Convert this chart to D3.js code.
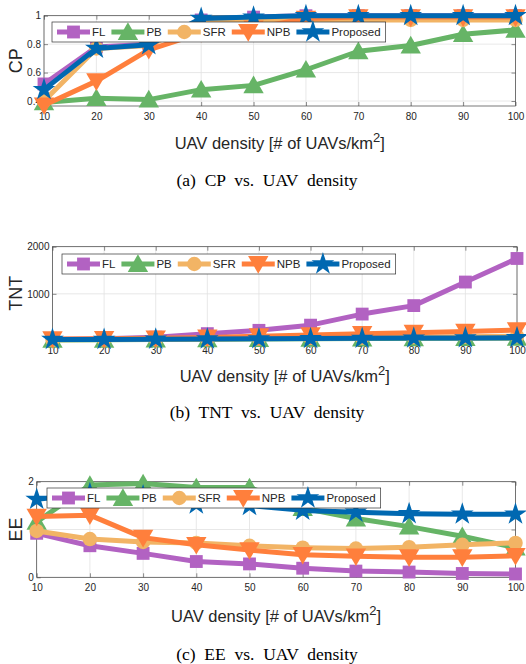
<!DOCTYPE html>
<html>
<head>
<meta charset="utf-8">
<script src="https://cdn.jsdelivr.net/npm/d3@7"></script>
<style>
  body { margin: 0; background: #fff; }
  svg { display: block; }
  text { font-family: "Liberation Sans", Arial, sans-serif; fill: #262626; }
  .caption { font-family: "Liberation Serif", "Times New Roman", serif; fill: #000; white-space: pre; }
</style>
</head>
<body>
<svg id="fig" width="526" height="664"></svg>
<script>
// x values shared by the three panels
const uavDensity = [10, 20, 30, 40, 50, 60, 70, 80, 90, 100];
const methodNames = ["FL", "PB", "SFR", "NPB", "Proposed"];
const methodColors = ["#b262c2", "#66b466", "#f2b465", "#ff7f3c", "#0068b1"];

// (a) coverage probability
const cpFL = [0.52, 0.78, 0.80, 0.97, 0.99, 1.0, 1.0, 1.0, 1.0, 1.0];
const cpPB = [0.39, 0.42, 0.41, 0.48, 0.51, 0.62, 0.75, 0.79, 0.87, 0.90];
const cpSFR = [0.40, 0.77, 0.79, 0.96, 0.965, 0.97, 0.97, 0.97, 0.97, 0.97];
const cpNPB = [0.37, 0.54, 0.76, 0.88, 0.91, 0.98, 0.99, 0.99, 0.99, 0.99];
const cpProposed = [0.48, 0.77, 0.795, 0.98, 0.99, 1.0, 1.0, 1.0, 1.0, 1.0];

// (b) TNT
const tntFL = [30, 45, 80, 155, 225, 335, 570, 750, 1250, 1750];
const tntPB = [22, 25, 30, 35, 40, 45, 50, 55, 60, 65];
const tntSFR = [25, 30, 35, 40, 50, 60, 70, 80, 90, 100];
const tntNPB = [40, 45, 55, 75, 100, 125, 150, 175, 200, 230];
const tntProposed = [30, 30, 35, 40, 45, 50, 55, 60, 65, 70];

// (c) energy efficiency
const eeFL = [0.92, 0.66, 0.50, 0.33, 0.28, 0.19, 0.13, 0.11, 0.08, 0.07];
const eePB = [1.16, 1.93, 1.96, 1.88, 1.88, 1.45, 1.23, 1.06, 0.86, 0.62];
const eeSFR = [0.97, 0.80, 0.74, 0.72, 0.66, 0.62, 0.60, 0.63, 0.68, 0.72];
const eeNPB = [1.27, 1.30, 0.83, 0.68, 0.57, 0.47, 0.44, 0.42, 0.42, 0.45];
const eeProposed = [1.63, 1.75, 1.70, 1.53, 1.50, 1.40, 1.36, 1.33, 1.32, 1.32];

const cpTicks = [0.4, 0.6, 0.8, 1];
const tntTicks = [1000, 2000];
const eeTicks = [0, 1, 2];
const eeTickLabels = ["0", "", "2"];

const svg = d3.select("#fig");

// marker shapes, roughly the matlab ones
const markerPath = [
  d3.symbol(d3.symbolSquare, 165)(),
  d3.symbol(d3.symbolTriangle, 180)(),
  d3.symbol(d3.symbolCircle, 165)(),
  d3.symbol(d3.symbolTriangle, 180)(),
  d3.symbol(d3.symbolStar, 160)()
];
const markerRot = [0, 0, 0, 180, 0];
const markerDy = [0, 2, 0, -2, 0];

function drawMarker(sel, i, cx, cy) {
  sel.append("path")
    .attr("d", markerPath[i])
    .attr("fill", methodColors[i])
    .attr("transform", `translate(${cx},${cy + markerDy[i]}) rotate(${markerRot[i]})`);
}

function drawPanel(p) {
  const g = svg.append("g");
  const x = d3.scaleLinear().domain([10, 100]).range([p.left, p.right]);
  const y = d3.scaleLinear().domain(p.yDomain).range([p.bottom, p.top]);

  // grid
  g.append("g").selectAll("line").data(uavDensity).join("line")
    .attr("x1", d => x(d)).attr("x2", d => x(d))
    .attr("y1", p.top).attr("y2", p.bottom)
    .attr("stroke", "#e2e2e2").attr("stroke-width", 0.8);
  g.append("g").selectAll("line").data(p.yTicks).join("line")
    .attr("x1", p.left).attr("x2", p.right)
    .attr("y1", d => y(d)).attr("y2", d => y(d))
    .attr("stroke", "#e2e2e2").attr("stroke-width", 0.8);

  // axes, ticks pointing inward
  const ax = (axis) => axis.tickSizeOuter(0).tickSizeInner(-4);
  g.append("g").attr("transform", `translate(0,${p.bottom})`)
    .call(ax(d3.axisBottom(x)).tickValues(uavDensity).tickPadding(7));
  g.append("g").attr("transform", `translate(${p.left},0)`)
    .call(ax(d3.axisLeft(y)).tickValues(p.yTicks).tickPadding(3)
      .tickFormat((d, i) => p.yLabels ? p.yLabels[i] : d3.format("~g")(d)));
  g.append("g").attr("transform", `translate(0,${p.top})`)
    .call(ax(d3.axisTop(x)).tickValues(uavDensity).tickFormat(""));
  g.append("g").attr("transform", `translate(${p.right},0)`)
    .call(ax(d3.axisRight(y)).tickValues(p.yTicks).tickFormat(""));
  g.selectAll(".domain").remove();
  g.selectAll(".tick line").attr("stroke", "#404040").attr("stroke-width", 0.6);
  g.selectAll(".tick text").attr("font-size", 10).attr("fill", "#262626")
    .attr("font-family", "Liberation Sans, Arial, sans-serif");

  g.append("rect")
    .attr("x", p.left).attr("y", p.top)
    .attr("width", p.right - p.left).attr("height", p.bottom - p.top)
    .attr("fill", "none").attr("stroke", "#404040").attr("stroke-width", 0.7);

  // series
  const line = d3.line().x((d, i) => x(uavDensity[i])).y(d => y(d));
  p.series.forEach((vals, s) => {
    const sg = g.append("g");
    sg.append("path").attr("d", line(vals))
      .attr("fill", "none").attr("stroke", methodColors[s])
      .attr("stroke-width", 5).attr("stroke-linejoin", "round");
    vals.forEach((v, i) => drawMarker(sg, s, x(uavDensity[i]), y(v)));
  });

  // legend
  const lg = g.append("g").attr("transform", `translate(${p.legendX},${p.legendY})`);
  const box = lg.append("rect").attr("height", 20)
    .attr("fill", "#fff").attr("stroke", "#333").attr("stroke-width", 0.7);
  let cur = 0;
  methodNames.forEach((name, s) => {
    const x0 = cur + 5, x1 = x0 + 33;
    lg.append("line").attr("x1", x0).attr("x2", x1).attr("y1", 10).attr("y2", 10)
      .attr("stroke", methodColors[s]).attr("stroke-width", 5);
    drawMarker(lg, s, (x0 + x1) / 2, 10);
    const t = lg.append("text").attr("x", x1 + 2).attr("y", 10).attr("dy", "0.36em")
      .attr("font-size", 11.5).text(name);
    cur = x1 + 2 + t.node().getComputedTextLength() + 1;
  });
  box.attr("width", cur + 4);

  // labels
  g.append("text")
    .attr("transform", `translate(${p.yLabelX},${(p.top + p.bottom) / 2}) rotate(-90)`)
    .attr("text-anchor", "middle").attr("dy", "0.35em")
    .attr("font-size", 18).text(p.yLabel);
  const xl = g.append("text").attr("x", (p.left + p.right) / 2).attr("y", p.xLabelY)
    .attr("text-anchor", "middle").attr("font-size", 16.5);
  xl.append("tspan").text("UAV density [# of UAVs/km");
  xl.append("tspan").attr("dy", -7).attr("font-size", 13).text("2");
  xl.append("tspan").attr("dy", 7).text("]");
  g.append("text").attr("class", "caption")
    .attr("x", 267).attr("y", p.captionY)
    .attr("text-anchor", "middle").attr("font-size", 17.5)
    .text(p.caption);
}

drawPanel({
  left: 44, right: 515.5, top: 15.7, bottom: 106,
  yDomain: [0.365, 1], yTicks: cpTicks, yLabel: "CP", yLabelX: 16,
  series: [cpFL, cpPB, cpSFR, cpNPB, cpProposed],
  legendX: 52, legendY: 22,
  xLabelY: 149, captionY: 186, caption: "(a)  CP  vs.  UAV  density"
});

drawPanel({
  left: 52.5, right: 517, top: 246.7, bottom: 340,
  yDomain: [20, 2000], yTicks: tntTicks, yLabel: "TNT", yLabelX: 16,
  series: [tntFL, tntPB, tntSFR, tntNPB, tntProposed],
  legendX: 62, legendY: 254,
  xLabelY: 382, captionY: 418, caption: "(b)  TNT  vs.  UAV  density"
});

drawPanel({
  left: 36.7, right: 515.5, top: 481.7, bottom: 577.3,
  yDomain: [0, 2], yTicks: eeTicks, yLabels: eeTickLabels, yLabel: "EE", yLabelX: 16,
  series: [eeFL, eePB, eeSFR, eeNPB, eeProposed],
  legendX: 47, legendY: 488,
  xLabelY: 622, captionY: 660, caption: "(c)  EE  vs.  UAV  density"
});
</script>
</body>
</html>
